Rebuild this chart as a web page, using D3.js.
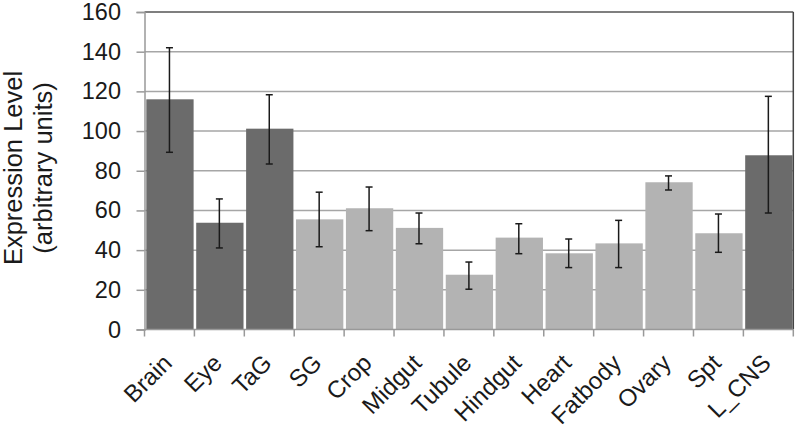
<!DOCTYPE html>
<html>
<head>
<meta charset="utf-8">
<script src="https://cdn.jsdelivr.net/npm/d3@7"></script>
<style>
  body { margin: 0; background: #fff; }
  text { font-family: "Liberation Sans", Arial, sans-serif; fill: #1a1a1a; }
</style>
</head>
<body>
<div id="chart"></div>
<script>
const tissues = ["Brain", "Eye", "TaG", "SG", "Crop", "Midgut", "Tubule", "Hindgut", "Heart", "Fatbody", "Ovary", "Spt", "L_CNS"]
const tissueType = ["nervous", "nervous", "nervous", "other", "other", "other", "other", "other", "other", "other", "other", "other", "nervous"]
const expression = [116, 53.8, 101.2, 55.5, 61.1, 51.2, 27.6, 46.3, 38.4, 43.4, 74.2, 48.5, 87.8]
const errHigh = [142, 65.8, 118.3, 69.2, 71.8, 58.7, 34, 53.3, 45.6, 55, 77.4, 58.2, 117.5]
const errLow = [89.3, 41.1, 83.4, 41.7, 49.8, 43.2, 20.3, 38.2, 31.2, 31.2, 70.3, 38.9, 58.7]
const yTicks = [0, 20, 40, 60, 80, 100, 120, 140, 160]

const data = tissues.map((t, i) => ({
	name: t,
	type: tissueType[i],
	value: expression[i],
	hi: errHigh[i],
	lo: errLow[i],
}))

const width = 797, height = 431
const plotLeft = 144.5, plotRight = 793.3, plotTop = 12, plotBottom = 329.5

const svg = d3.select("#chart").append("svg").attr("width", width).attr("height", height)

const x = d3.scaleBand().domain(tissues).range([plotLeft, plotRight])
const y = d3.scaleLinear().domain([0, 160]).range([plotBottom, plotTop])
const color = d3.scaleOrdinal().domain(["nervous", "other"]).range(["#6b6b6b", "#b3b3b3"])

// gridlines
svg.append("g")
	.selectAll("line")
	.data(yTicks.filter(d => d > 0 && d < 160))
	.enter()
	.append("line")
	.attr("x1", plotLeft)
	.attr("x2", plotRight)
	.attr("y1", d => y(d))
	.attr("y2", d => y(d))
	.attr("stroke", "#a6a6a6")
	.attr("stroke-width", 1.5)

// bars
svg.append("g")
	.selectAll("rect")
	.data(data)
	.enter()
	.append("rect")
	.attr("x", d => x(d.name) + 1.8)
	.attr("width", x.bandwidth() - 2.6)
	.attr("y", d => y(d.value))
	.attr("height", d => y(0) - y(d.value))
	.attr("fill", d => color(d.type))

// plot frame: top and right darker, left gray
svg.append("line").attr("x1", plotLeft).attr("x2", plotRight).attr("y1", plotTop).attr("y2", plotTop)
	.attr("stroke", "#555").attr("stroke-width", 1.5)
svg.append("line").attr("x1", plotRight).attr("x2", plotRight).attr("y1", plotTop).attr("y2", plotBottom)
	.attr("stroke", "#444").attr("stroke-width", 1.5)

// y axis
const yAxis = svg.append("g")
	.attr("transform", `translate(${plotLeft},0)`)
	.call(d3.axisLeft(y).tickValues(yTicks).tickSize(8).tickPadding(15.5))
yAxis.select(".domain").attr("stroke", "#999").attr("stroke-width", 1.5)
yAxis.selectAll(".tick line").attr("stroke", "#999").attr("stroke-width", 1.5)
yAxis.selectAll(".tick text").attr("font-size", 23.5).attr("fill", "#1a1a1a")
	.style("font-family", "Liberation Sans, Arial, sans-serif")

// x axis with ticks at band edges
const xg = svg.append("g")
xg.append("line").attr("x1", plotLeft).attr("x2", plotRight).attr("y1", plotBottom).attr("y2", plotBottom)
	.attr("stroke", "#999").attr("stroke-width", 1.5)
xg.selectAll(".xtick")
	.data(tissues.concat(["end"]))
	.enter()
	.append("line")
	.attr("x1", (d, i) => plotLeft + i * x.step())
	.attr("x2", (d, i) => plotLeft + i * x.step())
	.attr("y1", plotBottom)
	.attr("y2", plotBottom + 7)
	.attr("stroke", "#999")
	.attr("stroke-width", 1.5)

xg.selectAll(".xlabel")
	.data(tissues)
	.enter()
	.append("text")
	.attr("transform", d => `translate(${x(d) + x.bandwidth() / 2 + 4},${plotBottom + 35}) rotate(-45)`)
	.attr("text-anchor", "end")
	.attr("font-size", 24)
	.text(d => d)

// error bars
const err = svg.append("g").attr("stroke", "#1a1a1a").attr("stroke-width", 1.5)
data.forEach(d => {
	const cx = x(d.name) + x.bandwidth() / 2
	err.append("line").attr("x1", cx).attr("x2", cx).attr("y1", y(d.hi)).attr("y2", y(d.lo))
	err.append("line").attr("x1", cx - 3.5).attr("x2", cx + 3.5).attr("y1", y(d.hi)).attr("y2", y(d.hi))
	err.append("line").attr("x1", cx - 3.5).attr("x2", cx + 3.5).attr("y1", y(d.lo)).attr("y2", y(d.lo))
})

// y title
const title = svg.append("text")
	.attr("transform", `translate(0,168) rotate(-90)`)
	.attr("text-anchor", "middle")
	.attr("font-size", 25.5)
title.append("tspan").attr("x", 0).attr("y", 22).text("Expression Level")
title.append("tspan").attr("x", 0).attr("y", 52).text("(arbitrary units)")
</script>
</body>
</html>
